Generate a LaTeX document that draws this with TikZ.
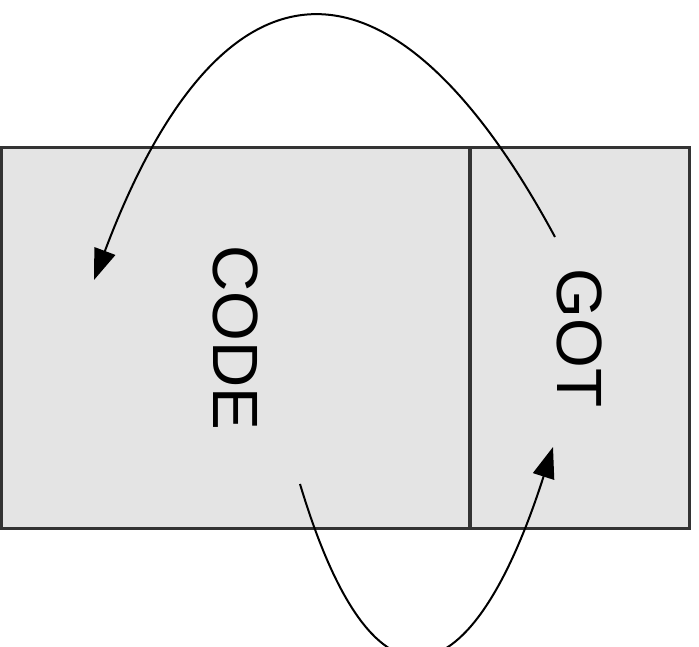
\documentclass[tikz,border=0pt]{standalone}
\usepackage{fontspec}
\setmainfont{Liberation Sans}
\usetikzlibrary{arrows.meta}
\definecolor{boxfill}{HTML}{E4E4E4}
\definecolor{boxline}{HTML}{333333}
\tikzset{
  memblock/.style={draw=boxline, fill=boxfill, line width=3pt, rotate=-90,
    minimum height=#1, inner sep=0pt, font=\fontsize{64}{77}\selectfont},
  jumparrow/.style={draw=black, line width=2pt,
    -{Triangle[length=31pt,width=22pt]}}
}
\begin{document}
\begin{tikzpicture}[x=1pt,y=-1pt]
\useasboundingbox (0,0) rectangle (699,647);
\node[memblock=468pt, minimum width=380pt] (code) at (235.5,338) {CODE};
\node[memblock=219pt, minimum width=380pt] (got) at (579.5,338) {GOT};
\coordinate (gotstart) at (555,237);
\coordinate (codetip) at (94,280);
\coordinate (codestart) at (300,484);
\coordinate (gottip) at (553,447);
\draw[jumparrow] (gotstart) .. controls (392,-65) and (222,-60) .. (codetip);
\draw[jumparrow] (codestart) .. controls (375,734) and (473,697) .. (gottip);
\end{tikzpicture}
\end{document}
